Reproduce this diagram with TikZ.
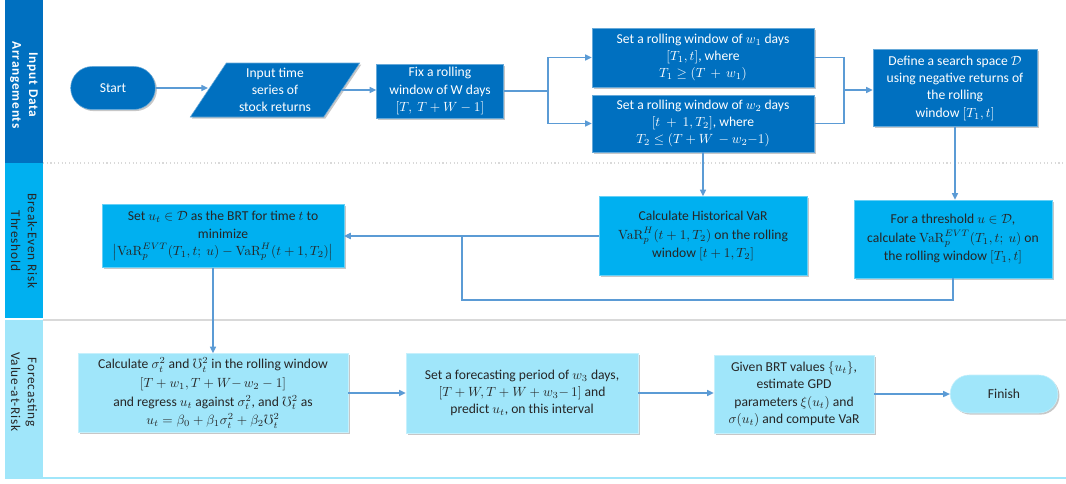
\documentclass[tikz,border=0pt]{standalone}
\usepackage{amsmath,amssymb}
\usepackage[no-math]{fontspec}
\setmainfont{Carlito}
\newfontfamily\lanefont[LetterSpace=6]{Carlito}
\usetikzlibrary{arrows.meta,shapes.geometric,shapes.misc,shadows}
\definecolor{dblue}{HTML}{0070C0}
\definecolor{mblue}{HTML}{00B0F0}
\definecolor{lblue}{HTML}{A0E6FA}
\definecolor{conn}{HTML}{5B9BD5}
\definecolor{txt}{HTML}{262626}
\definecolor{sepgray}{HTML}{D9D9D9}
\tikzset{
  base/.style={align=center, inner sep=2pt, font=\fontsize{10.2}{13}\selectfont,
    drop shadow={shadow xshift=1.2pt, shadow yshift=-1.2pt, fill=black, opacity=0.22}},
  dbox/.style={base, rectangle, fill=dblue, draw=dblue!60!white, line width=0.4pt, text=white},
  mbox/.style={base, rectangle, fill=mblue, draw=mblue!60!white, line width=0.4pt, text=txt},
  lbox/.style={base, rectangle, fill=lblue, draw=lblue!60!white, line width=0.4pt, text=txt},
  sz/.style 2 args={minimum width=#1*0.75pt, minimum height=#2*0.75pt},
  wire/.style={draw=conn, line width=1.1pt},
  arr/.style={wire, -{Triangle[length=5pt,width=4.5pt]}},
  lanelab/.style={rotate=-90, align=center, font=\lanefont\fontsize{10}{12.5}\selectfont}
}
\begin{document}
\begin{tikzpicture}[x=0.75pt,y=-0.75pt]
\useasboundingbox (0,0) rectangle (1066,483);
\fill[white] (0,0) rectangle (1066,483);
% lane bars
\fill[dblue] (5,0) rectangle (43,163);
\fill[mblue] (5,163) rectangle (43,318);
\fill[lblue] (5,320) rectangle (43,478);
% separators
\draw[sepgray, dotted, line width=0.8pt] (43,163) -- (1066,163);
\draw[sepgray, line width=1.3pt] (43,320) -- (1066,320);
\draw[lblue, line width=1.8pt] (5,478) -- (1066,478);
% lane labels
\node[lanelab, text=white, font=\lanefont\bfseries\fontsize{10}{12.5}\selectfont] (lab1) at (24,85) {Input Data\\Arrangements};
\node[lanelab, text=txt] (lab2) at (24,241) {Break-Even Risk\\Threshold};
\node[lanelab, text=txt] (lab3) at (24,392) {Forecasting\\Value-at-Risk};

% lane 1
\node[dbox, rounded rectangle, sz={90}{43}] (start) at (113,88) {Start};
\node[dbox, trapezium, trapezium left angle=60, trapezium right angle=120,
      trapezium stretches=true, sz={170}{54}] (input) at (275,90) {Input time\\series of\\stock returns};
\node[dbox, sz={127}{54}] (fix) at (440,91) {Fix a rolling\\window of W days\\$[T,\ T+W-1]$};
\node[dbox, sz={222}{59}] (w1) at (703,57.5) {Set a rolling window of $w_1$ days\\$[T_1,t]$, where\\$T_1\ge(T\,+\,w_1)$};
\node[dbox, sz={222}{57}] (w2) at (703,123.5) {Set a rolling window of $w_2$ days\\$[t\ +\ 1,T_2]$, where\\$T_2\le(T+W\,-w_2{-}1)$};
\node[dbox, sz={164}{77}] (define) at (955,88) {Define a search space $\mathcal{D}$\\using negative returns of\\the rolling\\window $[T_1,t]$};

% lane 2
\node[mbox, sz={208}{79}] (hist) at (703,236) {Calculate Historical VaR\\[1pt]$\mathrm{VaR}_p^H(t+1,T_2)$ on the rolling\\[1pt]window $[t+1,T_2]$};
\node[mbox, sz={198}{78}] (evt) at (953,239) {For a threshold $u\in\mathcal{D}$,\\[1pt]calculate $\mathrm{VaR}_p^{EVT}(T_1,t;\ u)$ on\\[1pt]the rolling window $[T_1,t]$};
\node[mbox, sz={242}{63}] (brt) at (223,236) {Set $u_t\in\mathcal{D}$ as the BRT for time $t$ to\\minimize\\$\left|\mathrm{VaR}_p^{EVT}(T_1,t;\ u)-\mathrm{VaR}_p^H(t+1,T_2)\right|$};

% lane 3
\node[lbox, sz={270}{79}] (calc) at (213,393) {Calculate $\sigma_t^2$ and $\mho_t^2$ in the rolling window\\[1pt]$[T+w_1,T+W{-}\,w_2-1]$\\[1pt]and regress $u_t$ against $\sigma_t^2$, and $\mho_t^2$ as\\[1pt]$u_t=\beta_0+\beta_1\sigma_t^2+\beta_2\mho_t^2$};
\node[lbox, sz={232}{80}] (fore) at (522,393) {Set a forecasting period of $w_3$ days,\\$[T+W,T+W+w_3{-}\,1]$ and\\predict $u_t$, on this interval};
\node[lbox, sz={160}{78}] (given) at (794,394) {Given BRT values $\{u_t\}$,\\estimate GPD\\parameters $\xi(u_t)$ and\\$\sigma(u_t)$ and compute VaR};
\node[lbox, rounded rectangle, sz={113}{38}] (finish) at (1004,394) {Finish};

% connectors
\coordinate (fork) at (548,91);
\coordinate (merge) at (844,90);
\coordinate (loop) at (462,300);
\draw[arr] (start.east) -- (start.east -| input.west);
\draw[arr] (input.east) -- (input.east -| fix.west);
\draw[wire] (fix.east) -- (fork);
\draw[arr] (fork) |- (w1.west);
\draw[arr] (fork) |- (w2.west);
\draw[wire] (w1.east) -| (merge);
\draw[wire] (w2.east) -| (merge);
\draw[arr] (merge) -- (merge -| define.west);
\draw[arr] (define.south) -- (define.south |- evt.north);
\draw[arr] (w2.south) -- (hist.north);
\draw[arr] (hist.west) -- (brt.east);
\draw[arr] (evt.south) |- (loop) -- (loop |- brt.east) -- (brt.east);
\draw[arr] (calc.north |- brt.south) -- (calc.north);
\draw[arr] (calc.east) -- (calc.east -| fore.west);
\draw[arr] (fore.east) -- (fore.east -| given.west);
\draw[arr] (given.east) -- (given.east -| finish.west);
\end{tikzpicture}
\end{document}
